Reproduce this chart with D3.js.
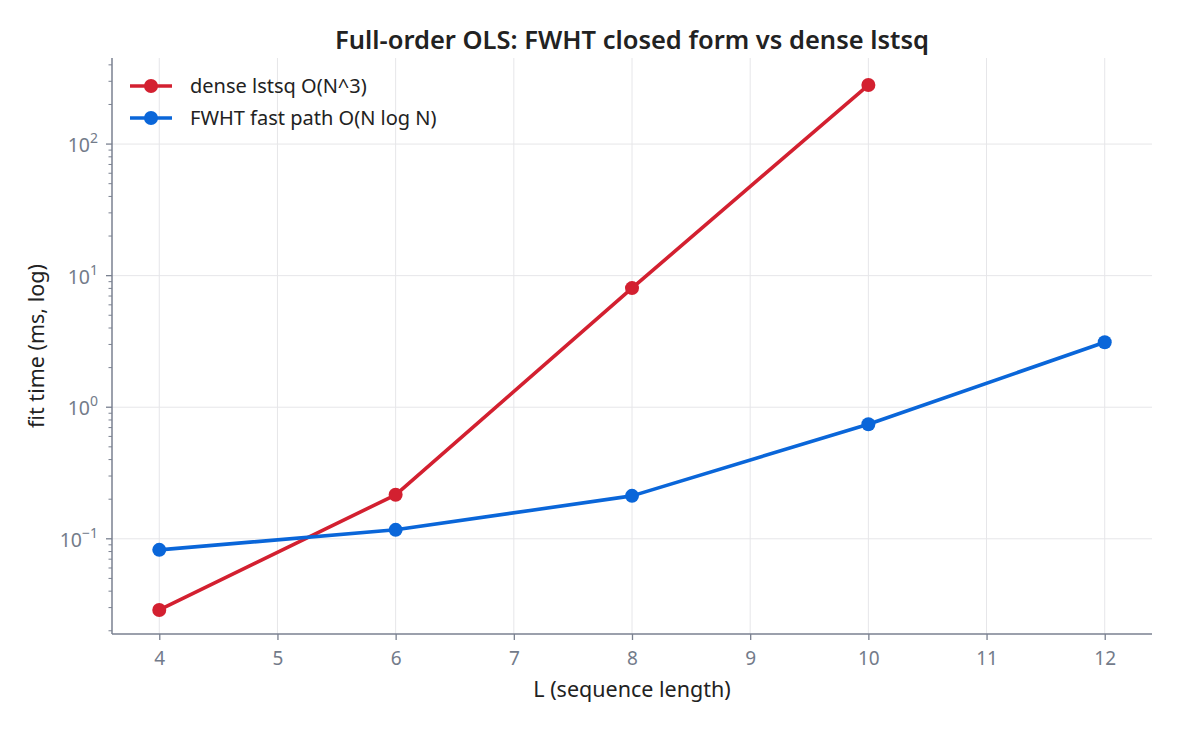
<!DOCTYPE html>
<html><head><meta charset="utf-8">
<script src="https://cdn.jsdelivr.net/npm/d3@7"></script>
<style>body{margin:0;background:#fff;} svg{display:block;font-family:"Segoe UI","Noto Sans","Open Sans",sans-serif;}</style>
</head><body><svg id="c" width="1179" height="729"></svg>
<script>
const lengths = [4, 6, 8, 10, 12];
const denseL = [4, 6, 8, 10];
const denseMs = [0.0288, 0.216, 8.04, 281];
const fwhtL = [4, 6, 8, 10, 12];
const fwhtMs = [0.0824, 0.117, 0.212, 0.743, 3.12];
const xTicks = [4, 5, 6, 7, 8, 9, 10, 11, 12];
const yDecades = [-1, 0, 1, 2];
const seriesNames = ["dense lstsq O(N^3)", "FWHT fast path O(N log N)"];
const colors = ["#d32030", "#0a66d9"];

const svg = d3.select("#c");
const m = {l:112, r:1152, t:58, b:634};
const x = d3.scaleLinear().domain([3.6, 12.4]).range([m.l, m.r]);
const y = d3.scaleLog().domain([0.0189, 451]).range([m.b, m.t]);
const axisCol = "#7a8190", tickCol = "#737b8a";

// grid
svg.append("g").selectAll("line").data(xTicks).join("line")
  .attr("x1", d=>x(d)).attr("x2", d=>x(d)).attr("y1", m.t).attr("y2", m.b)
  .attr("stroke", "#e6e6e9").attr("stroke-width", 1);
svg.append("g").selectAll("line").data(yDecades).join("line")
  .attr("x1", m.l).attr("x2", m.r).attr("y1", d=>y(Math.pow(10,d))).attr("y2", d=>y(Math.pow(10,d)))
  .attr("stroke", "#e6e6e9").attr("stroke-width", 1);

// x axis
const xa = svg.append("g").attr("transform", `translate(0,${m.b})`)
  .call(d3.axisBottom(x).tickValues(xTicks).tickSize(6).tickPadding(12).tickFormat(d3.format("d")));
xa.attr("font-size", 19).attr("font-family", null);
xa.select(".domain").attr("stroke", axisCol).attr("stroke-width", 1.5).attr("d", `M${m.l},0H${m.r}`);
xa.selectAll(".tick line").attr("stroke", axisCol).attr("stroke-width", 1.3);
xa.selectAll(".tick text").attr("fill", tickCol);

// y axis with minor ticks
const minors = [];
for (let e = -2; e <= 2; e++) for (let k = 2; k <= 9; k++) { const v = k*Math.pow(10,e); if (v >= 0.0189 && v <= 451) minors.push(v); }
const ya = svg.append("g").attr("transform", `translate(${m.l},0)`);
ya.append("path").attr("d", `M0,${m.t}V${m.b}`).attr("stroke", axisCol).attr("stroke-width", 1.5).attr("fill","none");
ya.selectAll("line.minor").data(minors).join("line").attr("class","minor")
  .attr("x1", -3.5).attr("x2", 0).attr("y1", d=>y(d)).attr("y2", d=>y(d))
  .attr("stroke", axisCol).attr("stroke-width", 1);
ya.selectAll("line.major").data(yDecades).join("line").attr("class","major")
  .attr("x1", -6).attr("x2", 0).attr("y1", d=>y(Math.pow(10,d))).attr("y2", d=>y(Math.pow(10,d)))
  .attr("stroke", axisCol).attr("stroke-width", 1.3);
const yt = ya.selectAll("text.tl").data(yDecades).join("text").attr("class","tl")
  .attr("x", -14).attr("y", d=>y(Math.pow(10,d)) + 8).attr("text-anchor","end")
  .attr("fill", tickCol).attr("font-size", 19.5);
yt.append("tspan").text("10");
yt.append("tspan").attr("dy", -9).attr("font-size", 14).text(d => d < 0 ? "\u2212" + Math.abs(d) : d);

// labels
svg.append("text").attr("x", (m.l+m.r)/2).attr("y", 49).attr("text-anchor","middle")
  .attr("font-size", 25.5).attr("font-weight", 600).attr("fill", "#222")
  .text("Full-order OLS: FWHT closed form vs dense lstsq");
svg.append("text").attr("x", (m.l+m.r)/2).attr("y", 697).attr("text-anchor","middle")
  .attr("font-size", 21.5).attr("fill", "#222").text("L (sequence length)");
svg.append("text").attr("transform", `translate(44,${(m.t+m.b)/2}) rotate(-90)`).attr("text-anchor","middle")
  .attr("font-size", 21.5).attr("fill", "#222").text("fit time (ms, log)");

// series
const series = [
  {name: seriesNames[0], xs: denseL, ys: denseMs, c: colors[0]},
  {name: seriesNames[1], xs: fwhtL, ys: fwhtMs, c: colors[1]}
];
const line = d3.line().x(d=>x(d[0])).y(d=>y(d[1]));
series.forEach(s => {
  const pts = s.xs.map((v,i)=>[v, s.ys[i]]);
  svg.append("path").datum(pts).attr("d", line).attr("fill","none")
    .attr("stroke", s.c).attr("stroke-width", 3.6).attr("stroke-linejoin","round");
  svg.append("g").selectAll("circle").data(pts).join("circle")
    .attr("cx", d=>x(d[0])).attr("cy", d=>y(d[1])).attr("r", 7).attr("fill", s.c);
});

// legend
series.forEach((s,i) => {
  const ly = 86 + i*32;
  svg.append("line").attr("x1", 130).attr("x2", 172).attr("y1", ly).attr("y2", ly)
    .attr("stroke", s.c).attr("stroke-width", 3.6);
  svg.append("circle").attr("cx", 151).attr("cy", ly).attr("r", 7).attr("fill", s.c);
  svg.append("text").attr("x", 190).attr("y", ly + 7).attr("font-size", 20).attr("fill", "#222").text(s.name);
});
</script></body></html>
